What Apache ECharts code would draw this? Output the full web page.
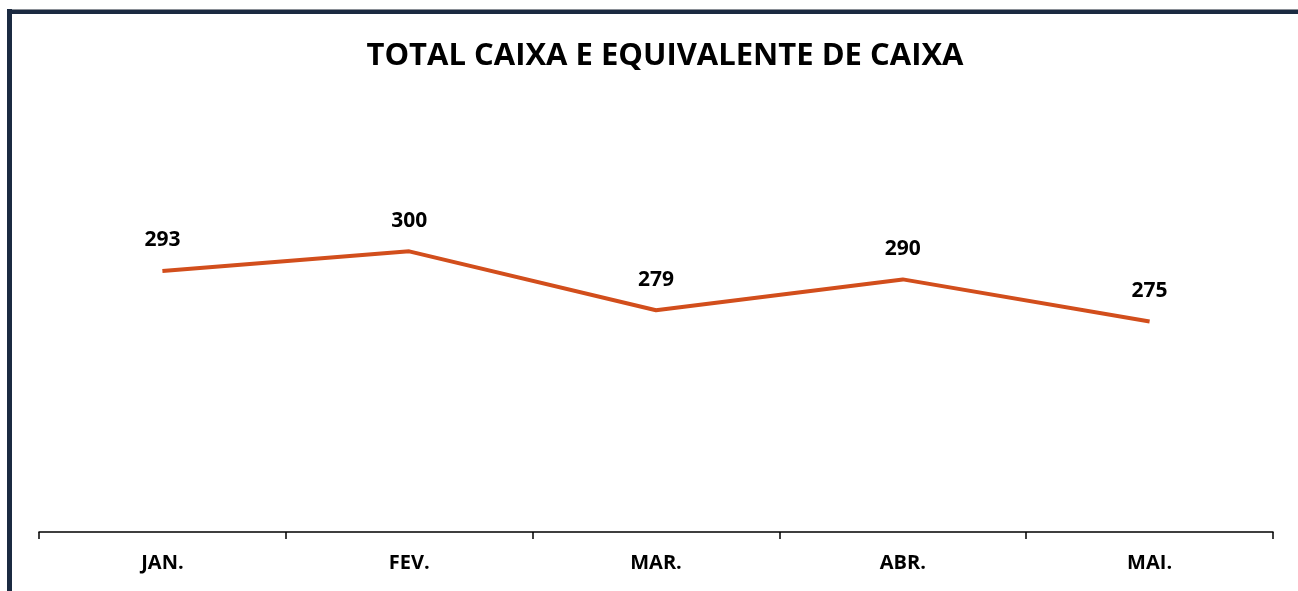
<!DOCTYPE html>
<html><head><meta charset="utf-8">
<script src="https://cdn.jsdelivr.net/npm/echarts@6/dist/echarts.min.js"></script>
<style>
html,body{margin:0;padding:0;background:#fff;}
#c{position:absolute;left:0;top:0;width:1298px;height:591px;}
#bt{position:absolute;left:7px;top:9px;width:1291px;height:5px;background:#1b2a41;border-top:1px solid #8a8f96;box-sizing:border-box;}
#bl{position:absolute;left:7px;top:9px;width:5px;height:582px;background:#1b2a41;}
</style></head><body>
<div id="c"></div><div id="bt"></div><div id="bl"></div>
<script>
const categories = ['JAN.', 'FEV.', 'MAR.', 'ABR.', 'MAI.'];
const values = [293, 300, 279, 290, 275];
const titleText = 'TOTAL CAIXA E EQUIVALENTE DE CAIXA';
const font = '"Open Sans", sans-serif';
const chart = echarts.init(document.getElementById('c'));
chart.setOption({
  animation: false,
  title: {text: titleText, left: 660, top: 36, textAlign: 'center',
    textStyle: {fontFamily: font, fontWeight: 'bold', fontSize: 31, color: '#000'}},
  grid: {left: 39, right: 25, top: 111, bottom: 59},
  xAxis: {type: 'category', data: categories, boundaryGap: true,
    axisLine: {lineStyle: {color: '#000', width: 1.5}},
    axisTick: {show: true, inside: false, length: 7, lineStyle: {color: '#000', width: 1.5}},
    axisLabel: {margin: 21, fontFamily: font, fontWeight: 'bold', fontSize: 20, color: '#000'}},
  yAxis: {type: 'value', min: 200, max: 350, show: false, splitLine: {show: false}},
  series: [{type: 'line', data: values, symbol: 'circle', symbolSize: 2, showSymbol: true,
    itemStyle: {color: 'rgba(0,0,0,0)', borderWidth: 0},
    lineStyle: {color: '#D24E1C', width: 4},
    label: {show: true, position: 'top', distance: 19, opacity: 1, fontFamily: font, fontWeight: 'bold', fontSize: 21, color: '#000'}}]
});
</script></body></html>
